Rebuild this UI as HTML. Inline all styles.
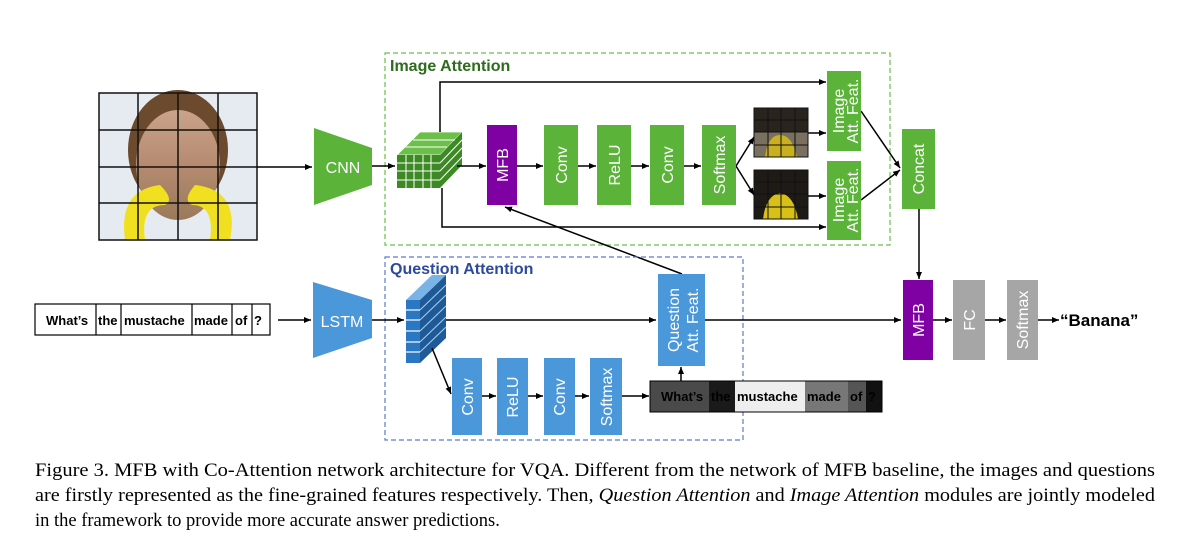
<!DOCTYPE html>
<html><head><meta charset="utf-8"><style>
html,body{margin:0;padding:0;background:#fff;}
svg{display:block;}
.w{font-family:"Liberation Sans",sans-serif;fill:#fff;font-size:16px;}
.b{font-family:"Liberation Sans",sans-serif;font-weight:bold;}
.cap{font-family:"Liberation Serif",serif;font-size:18.5px;fill:#000;}
</style></head><body>
<svg width="1190" height="541" viewBox="0 0 1190 541" xmlns="http://www.w3.org/2000/svg">
<defs>
<marker id="a" markerWidth="8" markerHeight="8" refX="7" refY="4" orient="auto" markerUnits="userSpaceOnUse"><path d="M0,1 L7,4 L0,7 z" fill="#000"/></marker>
<linearGradient id="face" x1="0" y1="0" x2="0" y2="1"><stop offset="0" stop-color="#c9a38a"/><stop offset="0.5" stop-color="#b68b70"/><stop offset="1" stop-color="#9a7a5a"/></linearGradient>
</defs>

<!-- input image -->
<rect x="99" y="93" width="158" height="147" fill="#e6ebf2"/>
<ellipse cx="178" cy="150" rx="50" ry="60" fill="#6b4a2e"/>
<ellipse cx="178" cy="165" rx="42" ry="55" fill="url(#face)"/>
<path d="M125,240 Q118,190 160,185 Q175,200 165,205 Q140,205 145,240 Z" fill="#f0e020"/>
<path d="M230,240 Q240,190 195,185 Q182,200 192,205 Q215,205 210,240 Z" fill="#f0e020"/>
<g stroke="#111" stroke-width="1.5" fill="none">
<rect x="99" y="93" width="158" height="147"/>
<line x1="138" y1="93" x2="138" y2="240"/><line x1="178" y1="93" x2="178" y2="240"/><line x1="218" y1="93" x2="218" y2="240"/>
<line x1="99" y1="130" x2="257" y2="130"/><line x1="99" y1="167" x2="257" y2="167"/><line x1="99" y1="203" x2="257" y2="203"/>
</g>

<!-- CNN / LSTM -->
<line x1="257" y1="167" x2="312" y2="167" stroke="#000" stroke-width="1.5" marker-end="url(#a)"/>
<polygon points="314,128 372,148 372,185 314,205" fill="#5bb339"/>
<text x="343" y="173" class="w" text-anchor="middle" font-size="17">CNN</text>
<polygon points="313,282 372,300 372,338 313,358" fill="#4a97da"/>
<text x="342" y="327" class="w" text-anchor="middle" font-size="17">LSTM</text>

<!-- question box -->
<g stroke="#000" stroke-width="1.2" fill="#fff"><rect x="35" y="304" width="235" height="31"/></g>
<g stroke="#000" stroke-width="1.2"><line x1="96" y1="304" x2="96" y2="335"/><line x1="121" y1="304" x2="121" y2="335"/><line x1="192" y1="304" x2="192" y2="335"/><line x1="232" y1="304" x2="232" y2="335"/><line x1="252" y1="304" x2="252" y2="335"/></g>
<g class="b" font-size="13" fill="#000">
<text x="46" y="325">What’s</text><text x="98" y="325">the</text><text x="124" y="325">mustache</text><text x="194" y="325">made</text><text x="235" y="325">of</text><text x="254" y="325">?</text>
</g>
<line x1="278" y1="320" x2="311" y2="320" stroke="#000" stroke-width="1.5" marker-end="url(#a)"/>

<!-- Image attention box -->
<rect x="385" y="53" width="505" height="192" fill="none" stroke="#6cbf4a" stroke-width="1.2" stroke-dasharray="5,3"/>
<text x="390" y="71" class="b" font-size="16" fill="#2e6b1e">Image Attention</text>

<line x1="372" y1="166" x2="395" y2="166" stroke="#000" stroke-width="1.5" marker-end="url(#a)"/>
<!-- cube -->
<polygon points="397,155 420,132 462,132 440,155" fill="#6cbf4a" stroke="#fff" stroke-width="0.8"/>
<polygon points="440,155 462,132 462,165 440,188" fill="#3d8a25"/>
<g stroke="#fff" stroke-width="1">
<line x1="440" y1="163" x2="462" y2="140"/><line x1="440" y1="171" x2="462" y2="148"/><line x1="440" y1="180" x2="462" y2="157"/>
<line x1="405" y1="147" x2="447" y2="147"/><line x1="413" y1="140" x2="455" y2="140"/>
</g>
<rect x="397" y="155" width="43" height="33" fill="#3d8a25"/>
<g stroke="#fff" stroke-width="1">
<line x1="397" y1="163" x2="440" y2="163"/><line x1="397" y1="171" x2="440" y2="171"/><line x1="397" y1="180" x2="440" y2="180"/>
<line x1="406" y1="155" x2="406" y2="188"/><line x1="414" y1="155" x2="414" y2="188"/><line x1="423" y1="155" x2="423" y2="188"/><line x1="431" y1="155" x2="431" y2="188"/>
</g>

<g stroke="#000" stroke-width="1.5" fill="none">
<polyline points="440,132 440,82 826,82" marker-end="url(#a)"/>
<polyline points="442,188 442,227 826,227" marker-end="url(#a)"/>
<line x1="457" y1="166" x2="486" y2="166" marker-end="url(#a)"/>
<line x1="517" y1="166" x2="543" y2="166" marker-end="url(#a)"/>
<line x1="578" y1="166" x2="596" y2="166" marker-end="url(#a)"/>
<line x1="631" y1="166" x2="649" y2="166" marker-end="url(#a)"/>
<line x1="684" y1="166" x2="701" y2="166" marker-end="url(#a)"/>
<line x1="736" y1="166" x2="754" y2="137" marker-end="url(#a)"/>
<line x1="736" y1="166" x2="754" y2="195" marker-end="url(#a)"/>
<line x1="808" y1="133" x2="826" y2="133" marker-end="url(#a)"/>
<line x1="808" y1="196" x2="826" y2="196" marker-end="url(#a)"/>
<line x1="861" y1="111" x2="900" y2="168" marker-end="url(#a)"/>
<line x1="861" y1="200" x2="900" y2="170" marker-end="url(#a)"/>
<line x1="919" y1="209" x2="919" y2="279" marker-end="url(#a)"/>
<line x1="682" y1="274" x2="505" y2="207" marker-end="url(#a)"/>
</g>

<rect x="487" y="125" width="30" height="80" fill="#7f00a3"/>
<text class="w" transform="translate(508,165) rotate(-90)" text-anchor="middle">MFB</text>
<g fill="#5bb339">
<rect x="544" y="125" width="34" height="80"/><rect x="597" y="125" width="34" height="80"/><rect x="650" y="125" width="34" height="80"/><rect x="702" y="125" width="34" height="80"/>
<rect x="827" y="71" width="34" height="80"/><rect x="827" y="161" width="34" height="79"/>
<rect x="902" y="129" width="33" height="80"/>
</g>
<text class="w" transform="translate(567,165) rotate(-90)" text-anchor="middle">Conv</text>
<text class="w" transform="translate(620,165) rotate(-90)" text-anchor="middle">ReLU</text>
<text class="w" transform="translate(673,165) rotate(-90)" text-anchor="middle">Conv</text>
<text class="w" transform="translate(725,165) rotate(-90)" text-anchor="middle">Softmax</text>
<text class="w" font-size="13" transform="translate(844,111) rotate(-90)" text-anchor="middle">Image</text>
<text class="w" font-size="13" transform="translate(858,111) rotate(-90)" text-anchor="middle">Att. Feat.</text>
<text class="w" font-size="13" transform="translate(844,200) rotate(-90)" text-anchor="middle">Image</text>
<text class="w" font-size="13" transform="translate(858,200) rotate(-90)" text-anchor="middle">Att. Feat.</text>
<text class="w" transform="translate(924,169) rotate(-90)" text-anchor="middle">Concat</text>

<!-- attention maps -->
<rect x="754" y="108" width="54" height="49" fill="#2a241e"/>
<rect x="754" y="132" width="54" height="25" fill="#7a7060"/>
<path d="M765,157 Q768,135 780,135 Q792,135 797,157 Z" fill="#c9b020"/>
<rect x="754" y="170" width="54" height="49" fill="#1e1a16"/>
<path d="M763,219 Q766,195 780,193 Q794,195 798,219 Z" fill="#d8c018"/>
<g stroke="#111" stroke-width="1" fill="none">
<rect x="754" y="108" width="54" height="49"/><line x1="768" y1="108" x2="768" y2="157"/><line x1="781" y1="108" x2="781" y2="157"/><line x1="795" y1="108" x2="795" y2="157"/><line x1="754" y1="120" x2="808" y2="120"/><line x1="754" y1="132" x2="808" y2="132"/><line x1="754" y1="145" x2="808" y2="145"/>
<rect x="754" y="170" width="54" height="49"/><line x1="768" y1="170" x2="768" y2="219"/><line x1="781" y1="170" x2="781" y2="219"/><line x1="795" y1="170" x2="795" y2="219"/><line x1="754" y1="182" x2="808" y2="182"/><line x1="754" y1="194" x2="808" y2="194"/><line x1="754" y1="207" x2="808" y2="207"/>
</g>

<!-- Question attention box -->
<rect x="385" y="257" width="358" height="183" fill="none" stroke="#5a7ad0" stroke-width="1.2" stroke-dasharray="5,3"/>
<text x="390" y="274" class="b" font-size="16" fill="#2e4a9e">Question Attention</text>

<line x1="372" y1="320" x2="404" y2="320" stroke="#000" stroke-width="1.5" marker-end="url(#a)"/>
<!-- blue stack -->
<polygon points="406,300 432,275 446,275 420,300" fill="#7ab4e6"/>
<polygon points="420,300 446,275 446,338 420,363" fill="#1f5a96"/>
<g stroke="#9cc8ee" stroke-width="1.2">
<line x1="420" y1="310" x2="446" y2="285"/><line x1="420" y1="320" x2="446" y2="295"/><line x1="420" y1="331" x2="446" y2="306"/><line x1="420" y1="342" x2="446" y2="317"/><line x1="420" y1="352" x2="446" y2="327"/>
</g>
<rect x="406" y="300" width="14" height="63" fill="#2a78c4"/>
<g stroke="#fff" stroke-width="1.2"><line x1="406" y1="310" x2="420" y2="310"/><line x1="406" y1="320" x2="420" y2="320"/><line x1="406" y1="331" x2="420" y2="331"/><line x1="406" y1="342" x2="420" y2="342"/><line x1="406" y1="352" x2="420" y2="352"/></g>

<g stroke="#000" stroke-width="1.5" fill="none">
<line x1="446" y1="320" x2="656" y2="320" marker-end="url(#a)"/>
<line x1="705" y1="320" x2="901" y2="320" marker-end="url(#a)"/>
<line x1="432" y1="348" x2="451" y2="394" marker-end="url(#a)"/>
<line x1="482" y1="396" x2="496" y2="396" marker-end="url(#a)"/>
<line x1="528" y1="396" x2="543" y2="396" marker-end="url(#a)"/>
<line x1="575" y1="396" x2="589" y2="396" marker-end="url(#a)"/>
<line x1="622" y1="396" x2="649" y2="396" marker-end="url(#a)"/>
<line x1="681" y1="381" x2="681" y2="367" marker-end="url(#a)"/>
<line x1="933" y1="320" x2="952" y2="320" marker-end="url(#a)"/>
<line x1="985" y1="320" x2="1006" y2="320" marker-end="url(#a)"/>
<line x1="1038" y1="320" x2="1059" y2="320" marker-end="url(#a)"/>
</g>

<g fill="#4a97da">
<rect x="452" y="358" width="30" height="77"/><rect x="497" y="358" width="31" height="77"/><rect x="544" y="358" width="31" height="77"/><rect x="590" y="358" width="32" height="77"/>
<rect x="658" y="274" width="47" height="92"/>
</g>
<text class="w" transform="translate(473,397) rotate(-90)" text-anchor="middle">Conv</text>
<text class="w" transform="translate(518,397) rotate(-90)" text-anchor="middle">ReLU</text>
<text class="w" transform="translate(565,397) rotate(-90)" text-anchor="middle">Conv</text>
<text class="w" transform="translate(612,397) rotate(-90)" text-anchor="middle">Softmax</text>
<text class="w" font-size="17" transform="translate(679,320) rotate(-90)" text-anchor="middle">Question</text>
<text class="w" font-size="17" transform="translate(698,320) rotate(-90)" text-anchor="middle">Att. Feat.</text>

<!-- attention word bar -->
<rect x="650" y="381" width="59" height="31" fill="#4a4a4a"/>
<rect x="709" y="381" width="26" height="31" fill="#1a1a1a"/>
<rect x="735" y="381" width="70" height="31" fill="#eeeeee"/>
<rect x="805" y="381" width="43" height="31" fill="#777"/>
<rect x="848" y="381" width="18" height="31" fill="#555"/>
<rect x="866" y="381" width="16" height="31" fill="#111"/>
<rect x="650" y="381" width="232" height="31" fill="none" stroke="#000" stroke-width="1"/>
<g class="b" font-size="13" fill="#000">
<text x="661" y="401">What’s</text><text x="711" y="401">the</text><text x="737" y="401">mustache</text><text x="807" y="401">made</text><text x="850" y="401">of</text><text x="868" y="401">?</text>
</g>

<!-- output -->
<rect x="903" y="280" width="30" height="80" fill="#7f00a3"/>
<text class="w" transform="translate(924,320) rotate(-90)" text-anchor="middle">MFB</text>
<rect x="953" y="280" width="32" height="80" fill="#a6a6a6"/>
<text class="w" transform="translate(975,320) rotate(-90)" text-anchor="middle">FC</text>
<rect x="1007" y="280" width="31" height="80" fill="#a6a6a6"/>
<text class="w" transform="translate(1028,320) rotate(-90)" text-anchor="middle">Softmax</text>
<text x="1060" y="326" class="b" font-size="17" fill="#000">“Banana”</text>

<!-- caption -->
<text x="35" y="476" class="cap" textLength="1120" lengthAdjust="spacingAndGlyphs">Figure 3. MFB with Co-Attention network architecture for VQA. Different from the network of MFB baseline, the images and questions</text>
<text x="35" y="501" class="cap" textLength="1120" lengthAdjust="spacingAndGlyphs">are firstly represented as the fine-grained features respectively. Then, <tspan font-style="italic">Question Attention</tspan> and <tspan font-style="italic">Image Attention</tspan> modules are jointly modeled</text>
<text x="35" y="526" class="cap">in the framework to provide more accurate answer predictions.</text>
</svg>
</body></html>
